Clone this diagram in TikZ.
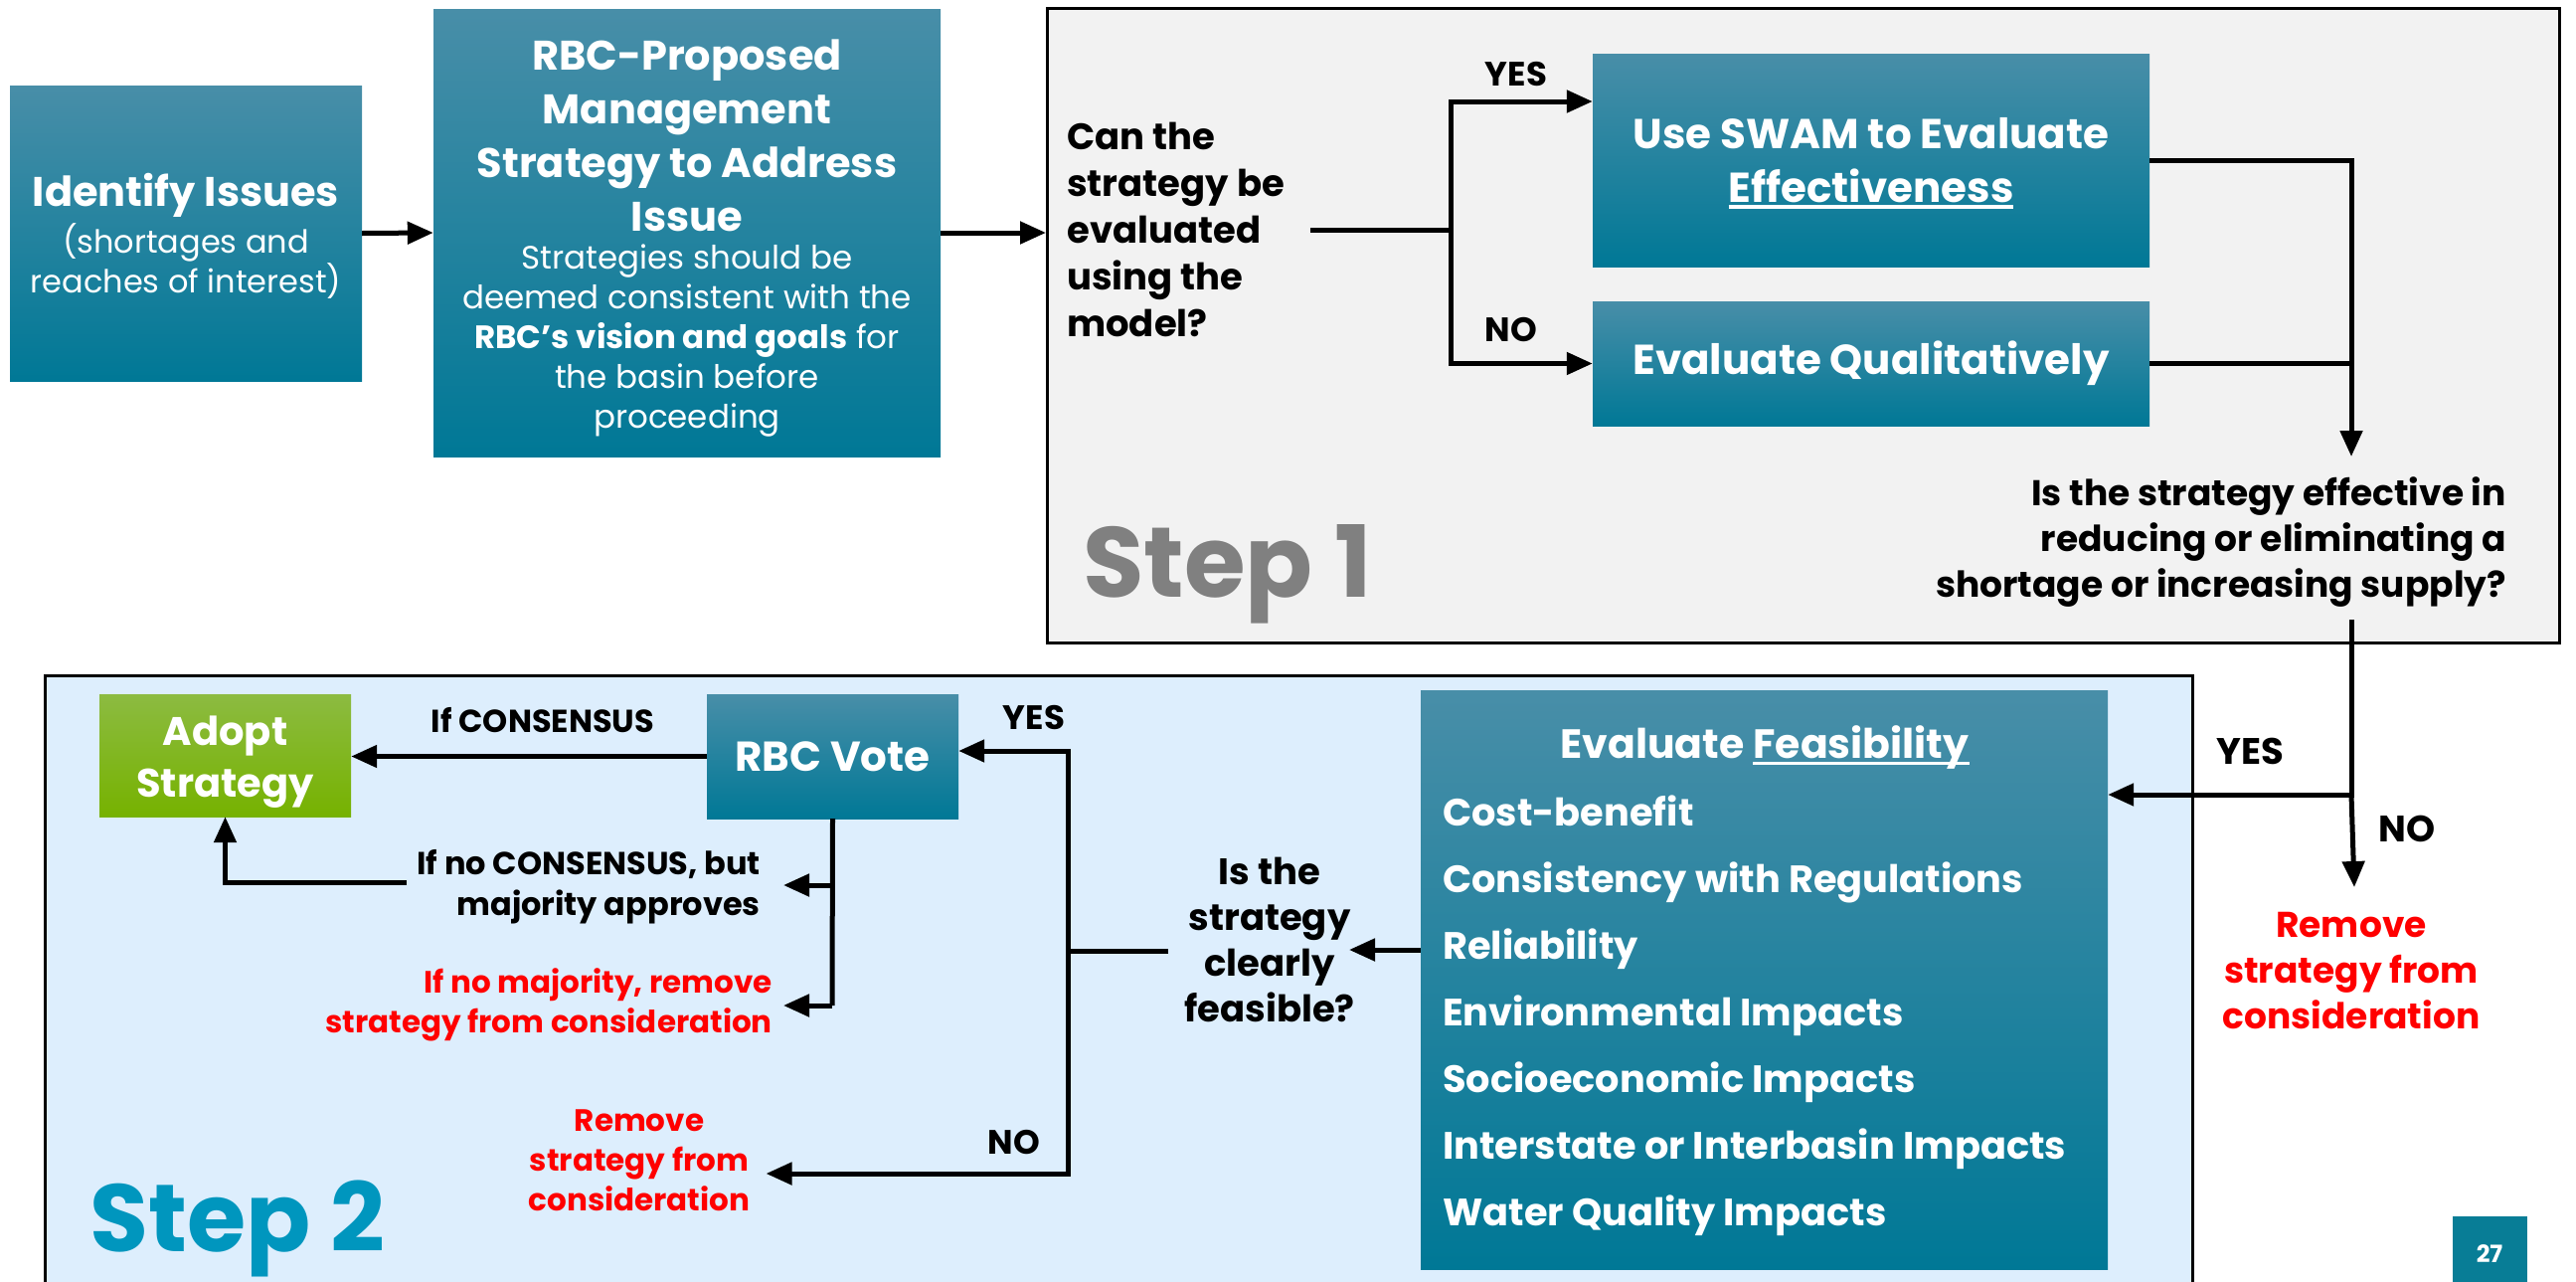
\documentclass[tikz,border=0pt]{standalone}
\usepackage{fontspec}
\setmainfont{Poppins}
\usetikzlibrary{arrows.meta}
\definecolor{tealtop}{RGB}{72,142,168}
\definecolor{tealmid}{RGB}{4,132,163}
\definecolor{tealbot}{RGB}{0,120,150}
\definecolor{greentop}{RGB}{140,187,65}
\definecolor{greenbot}{RGB}{118,178,0}
\definecolor{panelgray}{RGB}{242,242,242}
\definecolor{panelblue}{RGB}{221,238,253}
\definecolor{steptwo}{RGB}{0,150,190}
\definecolor{stepone}{RGB}{128,128,128}
\definecolor{redtxt}{RGB}{255,0,0}
\definecolor{pagebox}{RGB}{8,125,150}
\newcommand\myul[1]{\setbox0\hbox{#1}\rlap{\copy0}\rule[-0.15em]{\wd0}{0.08em}}
\newcommand\fs[2]{\fontsize{#1}{#2}\selectfont}
\begin{document}
\begin{tikzpicture}[x=1pt,y=-1pt,
  tealbox/.style={top color=tealtop, middle color=tealmid, bottom color=tealbot, inner sep=0pt},
  greenbox/.style={top color=greentop, bottom color=greenbot, inner sep=0pt},
  wtxt/.style={text=white, align=center, inner sep=0pt},
  lbl/.style={inner sep=2pt},
  conn/.style={line width=5pt},
  arr/.style={conn, -{Triangle[length=26pt,width=22pt]}}]
\useasboundingbox (0,0) rectangle (2591,1288);
% panels
\node[fill=panelgray, draw=black, line width=3pt, minimum width=1521pt, minimum height=638pt, anchor=north west, inner sep=0pt] (step1box) at (1052,7) {};
\fill[panelblue] (45,679) rectangle (2205,1292);
\draw[line width=3pt] (45,1292) -- (45,679) -- (2205,679) -- (2205,1292);
% top row
\node[tealbox, minimum width=354pt, minimum height=297pt] (ident) at (187,234.5) {};
\node[wtxt, font=\fs{41.5}{52}\bfseries] (identT) at (187,196) {Identify Issues};
\node[wtxt, font=\fs{32}{40}] (identS) at (187,263) {(shortages and\\ reaches of interest)};
\node[tealbox, minimum width=510pt, minimum height=450pt] (rbcp) at (691,234) {};
\node[wtxt, font=\fs{41.5}{54}\bfseries] (rbcpT) at (691,136) {RBC-Proposed\\ Management\\ Strategy to Address\\ Issue};
\node[wtxt, font=\fs{32.5}{40}] (rbcpS) at (691,343) {Strategies should be\\ deemed consistent with the\\ \textbf{RBC’s vision and goals} for\\ the basin before\\ proceeding};
\draw[arr] (ident.east) -- (rbcp.west);
\draw[arr] (rbcp.east) -- (rbcp.east -| step1box.west);
% step 1
\node[lbl, anchor=west, align=left, font=\bfseries\fs{37}{47}] (canq) at (1071,231) {Can the\\ strategy be\\ evaluated\\ using the\\ model?};
\node[tealbox, minimum width=560pt, minimum height=214pt] (swam) at (1882,161) {};
\node[wtxt, font=\fs{42}{54}\bfseries] (swamT) at (1882,164) {Use SWAM to Evaluate\\ \myul{Effectiveness}};
\node[tealbox, minimum width=560pt, minimum height=125pt] (qual) at (1882,365.5) {};
\node[wtxt, font=\fs{42}{54}\bfseries] (qualT) at (1882,365.5) {Evaluate Qualitatively};
\coordinate (split1) at (1459,231);
\coordinate (yes1) at (1459,102);
\coordinate (canqr) at (1318,231);
\draw[conn] (canqr) -- (split1);
\draw[arr] (split1) -- (yes1) -- (yes1 -| swam.west);
\draw[arr] (split1) |- (qual.west);
\node[lbl, font=\bfseries\fs{34}{40}] (yesA) at (1525,75) {YES};
\node[lbl, font=\bfseries\fs{34}{40}] (noA) at (1520,332) {NO};
\coordinate (efftip) at (2365,459);
\draw[arr] (swam.east) -| (efftip);
\draw[conn] (qual.east) -- (qual.east -| efftip);
\node[lbl, anchor=east, align=right, font=\bfseries\fs{36}{46}] (effq) at (2523,545)
 {Is the strategy effective in\\ reducing or eliminating a\\ shortage or increasing supply?};
\node[anchor=base west, inner sep=0pt, text=stepone, font=\bfseries\fs{100}{110}] (s1) at (1089,600) {Step 1};
% connection to step 2
\coordinate (effqb) at (2365,623);
\coordinate (j2) at (2365,799);
\node[inner sep=0pt, align=center, text=redtxt, font=\bfseries\fs{36}{46}] (rem1) at (2365,976)
 {Remove\\ strategy from\\ consideration};
\node[tealbox, minimum width=691pt, minimum height=582pt] (feas) at (1774.5,985) {};
\draw[arr] (effqb) -- (j2) -- (j2 -| feas.east);
\draw[arr] (j2) -- (2368,892);
\node[lbl, font=\bfseries\fs{37}{44}] (yesC) at (2263,755) {YES};
\node[lbl, font=\bfseries\fs{37}{44}] (noC) at (2421,833) {NO};
% step 2
\node[inner sep=0pt, text=white, font=\bfseries\fs{41}{50}] (feasT) at (1775,752) {Evaluate \myul{Feasibility}};
\node[inner sep=0pt, anchor=west, align=left, text=white, font=\bfseries\fs{38.3}{67}] (feasL) at (1451,1021.5)
 {Cost-benefit\\ Consistency with Regulations\\ Reliability\\ Environmental Impacts\\ Socioeconomic Impacts\\ Interstate or Interbasin Impacts\\ Water Quality Impacts};
\node[lbl, align=center, font=\bfseries\fs{37}{46}] (clearq) at (1277,945) {Is the\\ strategy\\ clearly\\ feasible?};
\draw[arr] (feas.west |- 0,955) -- (1357,955);
\node[tealbox, minimum width=253pt, minimum height=125pt] (vote) at (837.5,760.5) {};
\node[wtxt, font=\fs{42}{50}\bfseries] (voteT) at (837.5,760.5) {RBC Vote};
\node[greenbox, minimum width=253pt, minimum height=123pt] (adopt) at (226.5,759.5) {};
\node[wtxt, font=\fs{40}{52}\bfseries] (adoptT) at (226.5,766) {Adopt\\ Strategy};
\coordinate (j3) at (1074,956);
\coordinate (j3t) at (1074,755);
\coordinate (j3b) at (1074,1180);
\draw[conn] (1175,956) -- (j3);
\draw[arr] (j3) -- (j3t) -- (j3t -| vote.east);
\node[inner sep=0pt, align=center, text=redtxt, font=\bfseries\fs{31}{40}] (rem2) at (643,1167) {Remove\\ strategy from\\ consideration};
\draw[arr] (j3) -- (j3b) -- ([xshift=16pt]j3b -| rem2.east);
\node[lbl, font=\bfseries\fs{34}{40}] (yesB) at (1040,722) {YES};
\node[lbl, font=\bfseries\fs{34}{40}] (noB) at (1020,1148) {NO};
\draw[arr] (vote.west) -- (vote.west -| adopt.east);
\node[lbl, font=\bfseries\fs{32}{40}] (ifcons) at (546,724) {If CONSENSUS};
\node[inner sep=0pt, anchor=east, align=right, font=\bfseries\fs{32}{41}] (nocons) at (765,892) {If no CONSENSUS, but\\ majority approves};
\node[inner sep=0pt, anchor=east, align=right, text=redtxt, font=\bfseries\fs{31}{40}] (nomaj) at (777,1010) {If no majority, remove\\ strategy from consideration};
\coordinate (vb1) at (837,890);
\coordinate (vb2) at (837,1011);
\draw[conn] (vote.south) -- (vb2);
\draw[arr] (vb1) -- (788,890);
\draw[arr] (vb2) -- (788,1011);
\coordinate (nc) at (409,887);
\draw[arr] (nc) -| (adopt.south);
\node[lbl, anchor=base west, inner sep=0pt, text=steptwo, font=\bfseries\fs{96}{110}] (s2) at (90,1258) {Step 2};
\node[fill=pagebox, minimum width=75pt, minimum height=70pt, anchor=north west, inner sep=0pt] (pg) at (2467,1223) {};
\node[text=white, font=\bfseries\fs{24}{28}] (pgn) at (2504,1261) {27};
\end{tikzpicture}
\end{document}
